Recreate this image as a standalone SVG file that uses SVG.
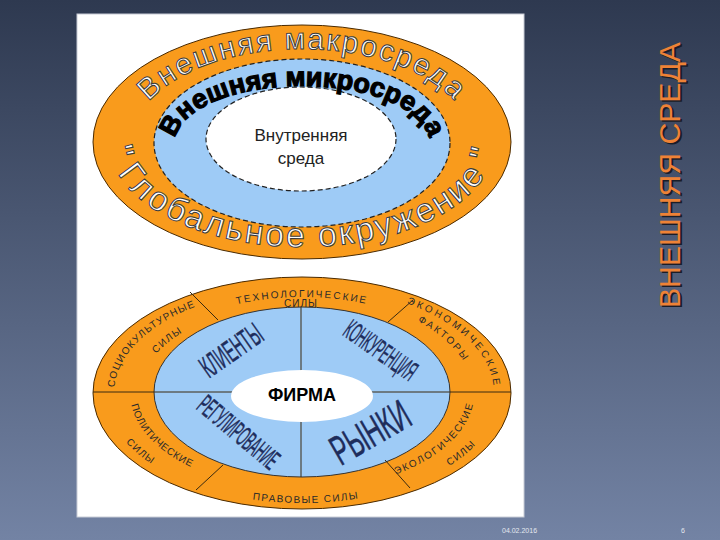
<svg xmlns="http://www.w3.org/2000/svg" width="720" height="540" viewBox="0 0 720 540">
<defs>
<linearGradient id="bg" x1="0" y1="0" x2="0" y2="1">
<stop offset="0" stop-color="#2e3950"/>
<stop offset="1" stop-color="#7383a4"/>
</linearGradient>
<path id="pMacro" d="M132,142 A170,93 0 0 1 472,142"/>
<path id="pMicro" d="M175,143 A127,57 0 0 1 429,143"/>
<path id="pGlobal" d="M109,142 A193,105 0 0 0 495,142"/>
<path id="pSoc" d="M114.3,387.5 A188,105 0 0 1 302,288"/>
<path id="pSocS" d="M145.5,369.7 A162,90 0 0 1 200.1,323.1"/>
<path id="pTech" d="M191.4,319.5 A172,96 0 0 1 412.6,319.5"/>
<path id="pEcon" d="M406.6,303.3 A192,107 0 0 1 491.1,411.6"/>
<path id="pEconF" d="M416.4,320.9 A171,97 0 0 1 464.6,363"/>
<path id="pPol" d="M131.3,404.8 A172,97 0 0 0 302,490"/>
<path id="pPolS" d="M116.9,430.6 A197,110 0 0 0 165.1,472.1"/>
<path id="pLaw" d="M203.5,488.3 A197,110 0 0 0 400.5,488.3"/>
<path id="pEco" d="M395.7,474.4 A172,97 0 0 0 463.6,359.8"/>
<path id="pEcoS" d="M433.8,474.7 A197,110 0 0 0 487.1,430.6"/>
</defs>
<style>
.ring{fill:#f99b1c;stroke:#4a2a00;stroke-width:1}
.blue{fill:#9ecbf6;stroke:#333;stroke-width:1}
.dash{stroke:#222;stroke-width:1.2;stroke-dasharray:5 3}
.wa{fill:#fff;stroke:#3a3a3a;stroke-width:1;font-family:"Liberation Sans",Arial,sans-serif}
.mic{fill:#000;stroke:#000;stroke-width:1.2;font-family:"Liberation Sans",Arial,sans-serif;font-weight:bold;font-size:27px}
.lbl{fill:#2a2a2a;font-family:"Liberation Sans",Arial,sans-serif;font-size:10px}
.q{fill:#1e2d5c;stroke:#1e2d5c;stroke-width:0.5;font-family:"Liberation Sans",Arial,sans-serif;text-anchor:middle}
.ln{stroke:#3a2a10;stroke-width:1;fill:none}
.ft{fill:#e4e8f0;font-family:"Liberation Sans",Arial,sans-serif;font-size:7px}
</style>
<rect x="0" y="0" width="720" height="540" fill="url(#bg)"/>
<rect x="77" y="14" width="447" height="503" fill="#fff" stroke="#c8ccd6" stroke-width="1"/>

<g id="title">
<text x="0" y="0" transform="translate(681.5,176.5) rotate(-90)" text-anchor="middle" font-family="'Liberation Sans',Arial,sans-serif" font-size="30" textLength="266" lengthAdjust="spacingAndGlyphs" fill="#1a1d28">ВНЕШНЯЯ СРЕДА</text>
<text x="0" y="0" transform="translate(680,175) rotate(-90)" text-anchor="middle" font-family="'Liberation Sans',Arial,sans-serif" font-size="30" textLength="266" lengthAdjust="spacingAndGlyphs" fill="#ee8236">ВНЕШНЯЯ СРЕДА</text>
</g>

<!-- top diagram -->
<g id="macro">
<ellipse cx="302" cy="142" rx="209" ry="117" class="ring"/>
</g>
<g id="micro">
<ellipse cx="302" cy="143" rx="148" ry="84" fill="#9ecbf6" class="dash"/>
</g>
<g id="internal">
<ellipse cx="301" cy="139" rx="95" ry="52" fill="#fff" class="dash"/>
<text x="301" y="141" text-anchor="middle" font-family="'Liberation Sans',Arial,sans-serif" font-size="17" fill="#222">Внутренняя</text>
<text x="301" y="164" text-anchor="middle" font-family="'Liberation Sans',Arial,sans-serif" font-size="17" fill="#222">среда</text>
</g>
<g id="macro-label">
<text class="wa" font-size="30" letter-spacing="1.8"><textPath href="#pMacro" startOffset="50%" text-anchor="middle">Внешняя макросреда</textPath></text>
<text class="wa" font-size="34" letter-spacing="2.4"><textPath href="#pGlobal" startOffset="50%" text-anchor="middle">" Глобальное окружение "</textPath></text>
</g>
<g id="micro-label">
<text class="mic"><textPath href="#pMicro" startOffset="50%" text-anchor="middle">Внешняя микросреда</textPath></text>
</g>

<!-- bottom diagram -->
<g id="forces">
<ellipse cx="302" cy="393" rx="209" ry="116" class="ring"/>
</g>
<g id="environment">
<ellipse cx="302" cy="392" rx="148" ry="85" class="blue"/>
</g>
<g id="connectors">
<line class="ln" x1="93" y1="392" x2="511" y2="392"/>
<line class="ln" x1="301" y1="307" x2="301" y2="477"/>
<line class="ln" x1="190" y1="292" x2="218" y2="320"/>
<line class="ln" x1="413" y1="300" x2="388" y2="322"/>
<line class="ln" x1="223" y1="465" x2="196" y2="490"/>
<line class="ln" x1="385" y1="460" x2="410" y2="488"/>
</g>
<g id="firm">
<ellipse cx="302" cy="396" rx="71" ry="26" fill="#fff"/>
<text x="302" y="401" text-anchor="middle" font-family="'Liberation Sans',Arial,sans-serif" font-weight="bold" font-size="18" fill="#000">ФИРМА</text>
</g>
<g id="tech">
<text class="lbl" font-size="11" letter-spacing="2"><textPath href="#pTech" startOffset="50%" text-anchor="middle">ТЕХНОЛОГИЧЕСКИЕ</textPath></text>
<text class="lbl" font-size="10" x="301" y="307" text-anchor="middle" letter-spacing="1">СИЛЫ</text>
</g>
<g id="socio">
<text class="lbl" letter-spacing="1.2"><textPath href="#pSoc">СОЦИОКУЛЬТУРНЫЕ</textPath></text>
<text class="lbl" letter-spacing="1.2"><textPath href="#pSocS" startOffset="50%" text-anchor="middle">СИЛЫ</textPath></text>
</g>
<g id="econ">
<text class="lbl" letter-spacing="2.8"><textPath href="#pEcon">ЭКОНОМИЧЕСКИЕ</textPath></text>
<text class="lbl" letter-spacing="2"><textPath href="#pEconF" startOffset="50%" text-anchor="middle">ФАКТОРЫ</textPath></text>
</g>
<g id="politic">
<text class="lbl" font-size="11" letter-spacing="0.6"><textPath href="#pPol">ПОЛИТИЧЕСКИЕ</textPath></text>
<text class="lbl" font-size="11" letter-spacing="1.2"><textPath href="#pPolS" startOffset="50%" text-anchor="middle">СИЛЫ</textPath></text>
</g>
<g id="law">
<text class="lbl" font-size="11" letter-spacing="1.4"><textPath href="#pLaw" startOffset="52%" text-anchor="middle">ПРАВОВЫЕ СИЛЫ</textPath></text>
</g>
<g id="ecology">
<text class="lbl" letter-spacing="1.7"><textPath href="#pEco">ЭКОЛОГИЧЕСКИЕ</textPath></text>
<text class="lbl" letter-spacing="1.2"><textPath href="#pEcoS" startOffset="50%" text-anchor="middle">СИЛЫ</textPath></text>
</g>
<g id="clients">
<text class="q" font-size="31" y="11" transform="translate(231,350) rotate(-35) scale(0.46,1)">КЛИЕНТЫ</text>
</g>
<g id="competition">
<text class="q" font-size="28" y="10" transform="translate(381,350) rotate(35) scale(0.39,1)">КОНКУРЕНЦИЯ</text>
</g>
<g id="regulation">
<text class="q" font-size="28" y="10" transform="translate(239,432) rotate(40) scale(0.40,1)">РЕГУЛИРОВАНИЕ</text>
</g>
<g id="markets">
<text class="q" font-size="42" y="15" transform="translate(370,432) rotate(-30) scale(0.565,1)">РЫНКИ</text>
</g>

<g id="footer">
<text class="ft" x="502" y="533">04.02.2016</text>
<text class="ft" x="681" y="533">6</text>
</g>
</svg>
